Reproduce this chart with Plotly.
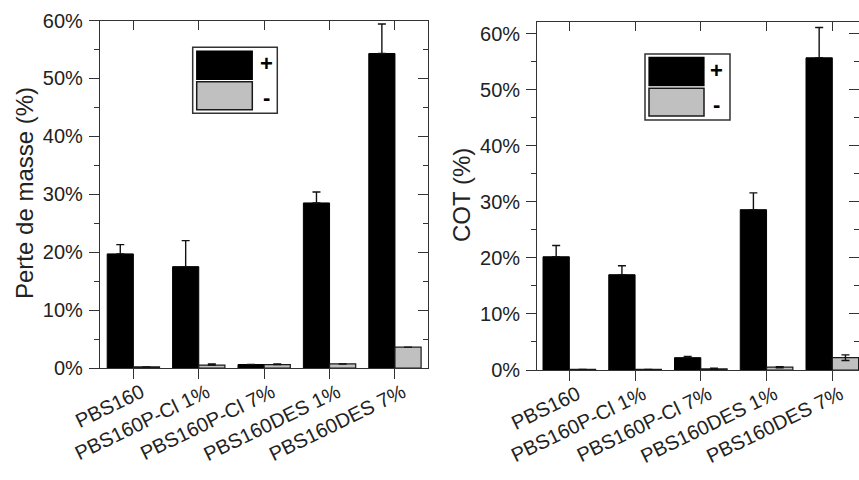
import plotly.graph_objects as go

# ---------------- data ----------------
categories = ["PBS160", "PBS160P-Cl 1%", "PBS160P-Cl 7%", "PBS160DES 1%", "PBS160DES 7%"]

# Left chart: Perte de masse (%)
mass_plus = [19.7, 17.5, 0.6, 28.5, 54.3]
mass_plus_err = [1.6, 4.5, 0.0, 1.9, 5.1]
mass_minus = [0.2, 0.5, 0.6, 0.7, 3.6]
mass_minus_err = [0.0, 0.2, 0.1, 0.0, 0.0]

# Right chart: COT (%)
cot_plus = [20.2, 17.0, 2.2, 28.6, 55.7]
cot_plus_err = [2.0, 1.6, 0.2, 3.0, 5.4]
cot_minus = [0.1, 0.1, 0.2, 0.5, 2.2]
cot_minus_err = [0.0, 0.0, 0.1, 0.1, 0.5]

legend_labels = ["+", "-"]
y_titles = ["Perte de masse (%)", "COT (%)"]

# ---------------- styling ----------------
W, H = 859, 480
BLACK = "#000000"
GRAY = "#c0c0c0"
AXIS = "#333333"
TXT = "#222222"
FONT = "Liberation Sans, Arial, sans-serif"


def px(x):
    return x / W


def py(y):
    return 1 - y / H


fig = go.Figure()

err_style = dict(type="data", visible=True, color="#111111", thickness=1.4, width=4)

for xa, ya, plus, perr, minus, merr, minus_sym in [
    ("x", "y", mass_plus, mass_plus_err, mass_minus, mass_minus_err, False),
    ("x2", "y2", cot_plus, cot_plus_err, cot_minus, cot_minus_err, True),
]:
    fig.add_trace(go.Bar(
        x=categories, y=plus, name=legend_labels[0], xaxis=xa, yaxis=ya,
        marker=dict(color=BLACK, line=dict(color=BLACK, width=1)),
        error_y=dict(array=perr, symmetric=False, arrayminus=[0] * len(perr), **err_style),
        showlegend=False,
    ))
    fig.add_trace(go.Bar(
        x=categories, y=minus, name=legend_labels[1], xaxis=xa, yaxis=ya,
        marker=dict(color=GRAY, line=dict(color="#1a1a1a", width=1.2)),
        error_y=dict(array=merr, symmetric=minus_sym,
                     arrayminus=(merr if minus_sym else [0] * len(merr)), **err_style),
        showlegend=False,
    ))

# panel geometry (pixels)
L = dict(x0=100, x1=428.3, ytop=20.5, ybot=368, yr=[0, 60], xr=[-0.51, 4.51])
R = dict(x0=537.3, x1=859, ytop=21.7, ybot=370, yr=[0, 62.14], xr=[-0.487, 4.406])

tickfont = dict(family=FONT, size=20, color=TXT)
xtickfont = dict(family=FONT, size=20, color=TXT)

common_x = dict(
    type="category", categoryorder="array", categoryarray=categories,
    showline=True, linecolor=AXIS, linewidth=1.3, mirror=True,
    ticks="outside", ticklen=10, tickwidth=1.3, tickcolor=AXIS,
    tickangle=-26, tickfont=xtickfont, showgrid=False, zeroline=False,
    ticklabelshift=8, ticklabelstandoff=-6,
    automargin=False,
)
common_y = dict(
    showline=True, linecolor=AXIS, linewidth=1.3,
    ticks="outside", ticklen=10, tickwidth=1.3, tickcolor=AXIS,
    dtick=10, tick0=0, ticksuffix="%", tickfont=tickfont, ticklabelstandoff=2,
    minor=dict(dtick=5, tick0=0, ticks="outside", ticklen=5, tickwidth=1.3, tickcolor=AXIS, showgrid=False),
    showgrid=False, zeroline=False, automargin=False,
)
overlay_x = dict(side="top", type="linear", tickvals=[0, 1, 2, 3, 4], ticks="inside", ticklen=9,
                 tickwidth=1.3, tickcolor=AXIS, showticklabels=False, showline=False,
                 showgrid=False, zeroline=False, automargin=False)
overlay_y = dict(side="right", dtick=10, tick0=0, ticks="inside", ticklen=10, tickwidth=1.3, tickcolor=AXIS,
                 minor=dict(dtick=5, tick0=0, ticks="inside", ticklen=5, tickwidth=1.3, tickcolor=AXIS),
                 showticklabels=False, showline=False, showgrid=False, zeroline=False, automargin=False)

fig.update_layout(
    template="none",
    xaxis=dict(domain=[px(L["x0"]), px(L["x1"])], range=L["xr"], anchor="y", **common_x),
    yaxis=dict(domain=[py(L["ybot"]), py(L["ytop"])], range=L["yr"], anchor="x", mirror=True, **common_y),
    xaxis2=dict(domain=[px(R["x0"]), px(R["x1"])], range=R["xr"], anchor="y2", **common_x),
    yaxis2=dict(domain=[py(R["ybot"]), py(R["ytop"])], range=R["yr"], anchor="x2", mirror=False, **common_y),
    xaxis3=dict(overlaying="x", anchor="y", range=L["xr"], **overlay_x),
    xaxis4=dict(overlaying="x2", anchor="y2", range=R["xr"], **overlay_x),
    yaxis3=dict(overlaying="y", anchor="x", range=L["yr"], **overlay_y),
    yaxis4=dict(overlaying="y2", anchor="x2", range=R["yr"], **overlay_y),
    barmode="group", bargap=0.2, bargroupgap=0.0,
    width=W, height=H, margin=dict(l=0, r=0, t=0, b=0, pad=0),
    paper_bgcolor="white", plot_bgcolor="white",
    font=dict(family=FONT, color=TXT),
    showlegend=False,
)

# invisible traces so the overlay axes render
for xa, ya in [("x3", "y3"), ("x4", "y4")]:
    fig.add_trace(go.Scatter(x=[None], y=[None], xaxis=xa, yaxis=ya, showlegend=False, hoverinfo="skip"))

# y-axis titles
fig.add_annotation(x=px(24), y=py(193), xref="paper", yref="paper", text=y_titles[0],
                   textangle=-90, showarrow=False, xanchor="center", yanchor="middle",
                   font=dict(family=FONT, size=24, color=TXT))
fig.add_annotation(x=px(461), y=py(195), xref="paper", yref="paper", text=y_titles[1],
                   textangle=-90, showarrow=False, xanchor="center", yanchor="middle",
                   font=dict(family=FONT, size=24, color=TXT))

# legends (drawn boxes)
for (bx0, by0, bx1, by1, sx0, sx1, s1y0, s1y1, s2y0, s2y1, tx, t1y, t2y) in [
    (192.7, 47.3, 277.3, 113.3, 196.7, 252.3, 51, 79.3, 81.7, 109.7, 266, 64, 97),
    (645, 54, 730, 120, 649, 704, 57.3, 85.7, 88.3, 116, 716, 70, 104),
]:
    fig.add_shape(type="rect", xref="paper", yref="paper", x0=px(bx0), x1=px(bx1), y0=py(by1), y1=py(by0),
                  line=dict(color=AXIS, width=1.5), fillcolor="white", layer="above")
    fig.add_shape(type="rect", xref="paper", yref="paper", x0=px(sx0), x1=px(sx1), y0=py(s1y1), y1=py(s1y0),
                  line=dict(color=BLACK, width=1.2), fillcolor=BLACK, layer="above")
    fig.add_shape(type="rect", xref="paper", yref="paper", x0=px(sx0), x1=px(sx1), y0=py(s2y1), y1=py(s2y0),
                  line=dict(color="#1a1a1a", width=1.5), fillcolor=GRAY, layer="above")
    fig.add_annotation(x=px(tx), y=py(t1y), xref="paper", yref="paper", text="<b>" + legend_labels[0] + "</b>",
                       showarrow=False, xanchor="center", yanchor="middle",
                       font=dict(family=FONT, size=22, color=BLACK))
    fig.add_annotation(x=px(tx), y=py(t2y), xref="paper", yref="paper", text="<b>" + legend_labels[1] + "</b>",
                       showarrow=False, xanchor="center", yanchor="middle",
                       font=dict(family=FONT, size=22, color=BLACK))

fig.write_html("out.html", config={"displayModeBar": False},
               post_script="document.body.style.margin='0px';")
